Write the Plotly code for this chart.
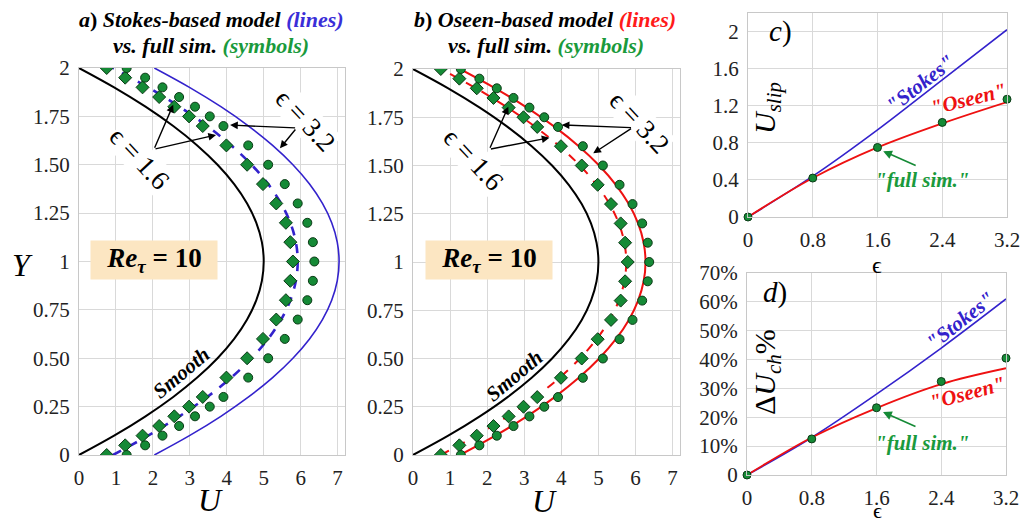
import plotly.graph_objects as go

# ---------------- data ----------------
Y_line = [0.0, 0.1, 0.2, 0.3, 0.4, 0.5, 0.6, 0.7, 0.8, 0.9, 1.0,
          1.1, 1.2, 1.3, 1.4, 1.5, 1.6, 1.7, 1.8, 1.9, 2.0]
U_smooth = [0.00, 0.95, 1.80, 2.55, 3.20, 3.75, 4.20, 4.55, 4.80, 4.95, 5.00,
            4.95, 4.80, 4.55, 4.20, 3.75, 3.20, 2.55, 1.80, 0.95, 0.00]
U_stokes_16 = [0.92, 1.87, 2.72, 3.47, 4.12, 4.67, 5.12, 5.47, 5.72, 5.87, 5.92,
               5.87, 5.72, 5.47, 5.12, 4.67, 4.12, 3.47, 2.72, 1.87, 0.92]
U_stokes_32 = [2.04, 2.99, 3.84, 4.59, 5.24, 5.79, 6.24, 6.59, 6.84, 6.99, 7.04,
               6.99, 6.84, 6.59, 6.24, 5.79, 5.24, 4.59, 3.84, 2.99, 2.04]
U_oseen_16 = [0.75, 1.70, 2.55, 3.30, 3.95, 4.50, 4.95, 5.30, 5.55, 5.70, 5.75,
              5.70, 5.55, 5.30, 4.95, 4.50, 3.95, 3.30, 2.55, 1.70, 0.75]
U_oseen_32 = [1.27, 2.22, 3.07, 3.82, 4.47, 5.02, 5.47, 5.82, 6.07, 6.22, 6.27,
              6.22, 6.07, 5.82, 5.47, 5.02, 4.47, 3.82, 3.07, 2.22, 1.27]

Y_sym = [0.0, 0.05, 0.1, 0.15, 0.2, 0.25, 0.3, 0.4, 0.5, 0.6, 0.7, 0.8, 0.9, 1.0,
         1.1, 1.2, 1.3, 1.4, 1.5, 1.6, 1.7, 1.75, 1.8, 1.85, 1.9, 1.95, 2.0]
U_sim_16 = [0.75, 1.25, 1.72, 2.17, 2.58, 2.98, 3.35, 3.99, 4.55, 4.98, 5.34, 5.60, 5.72, 5.79,
            5.72, 5.60, 5.34, 4.98, 4.55, 3.99, 3.35, 2.98, 2.58, 2.17, 1.72, 1.25, 0.75]
U_sim_32 = [1.29, 1.79, 2.26, 2.71, 3.14, 3.54, 3.91, 4.58, 5.12, 5.57, 5.92, 6.18, 6.33, 6.37,
            6.33, 6.18, 5.92, 5.57, 5.12, 4.58, 3.91, 3.54, 3.14, 2.71, 2.26, 1.79, 1.29]

eps = [0.0, 0.8, 1.6, 2.4, 3.2]
Uslip_stokes = [0.0, 0.44, 0.94, 1.48, 2.02]
Uslip_oseen = [0.0, 0.42, 0.75, 1.01, 1.24]
Uslip_sim = [0.0, 0.42, 0.75, 1.02, 1.27]
dU_stokes = [0.0, 0.13, 0.28, 0.44, 0.61]
dU_oseen = [0.0, 0.13, 0.232, 0.315, 0.37]
dU_sim = [0.0, 0.125, 0.233, 0.324, 0.405]

U_ticks = [0, 1, 2, 3, 4, 5, 6, 7]
Y_ticks = [0, 0.25, 0.5, 0.75, 1, 1.25, 1.5, 1.75, 2]
Y_ticktext = ['0', '0.25', '0.50', '0.75', '1', '1.25', '1.50', '1.75', '2']
eps_ticks = [0, 0.8, 1.6, 2.4, 3.2]
eps_ticktext = ['0', '0.8', '1.6', '2.4', '3.2']
slip_ticks = [0, 0.4, 0.8, 1.2, 1.6, 2.0]
slip_ticktext = ['0', '0.4', '0.8', '1.2', '1.6', '2']
dU_ticks = [0, 0.1, 0.2, 0.3, 0.4, 0.5, 0.6, 0.7]
dU_ticktext = ['0', '10%', '20%', '30%', '40%', '50%', '60%', '70%']

# ---------------- style ----------------
W, H = 1023, 526
FONT = 'Liberation Serif'
BLUE = '#3322cc'
RED = '#ee1111'
GREEN = '#158a36'
GREEN_T = '#1a9a3c'
MK_LINE = '#0b3a16'
GRID = '#d9d9d9'


def px(x):
    return x / W


def py(y):
    return 1 - y / H


fig = go.Figure()

# panel a
fig.add_trace(go.Scatter(x=U_smooth, y=Y_line, mode='lines', line=dict(color='black', width=2, shape='spline'),
                         xaxis='x', yaxis='y', showlegend=False))
fig.add_trace(go.Scatter(x=U_stokes_32, y=Y_line, mode='lines', line=dict(color=BLUE, width=1.6, shape='spline'),
                         xaxis='x', yaxis='y', showlegend=False))
fig.add_trace(go.Scatter(x=U_stokes_16, y=Y_line, mode='lines',
                         line=dict(color=BLUE, width=2.6, dash='dash', shape='spline'),
                         xaxis='x', yaxis='y', showlegend=False))
# panel b
fig.add_trace(go.Scatter(x=U_smooth, y=Y_line, mode='lines', line=dict(color='black', width=2, shape='spline'),
                         xaxis='x2', yaxis='y2', showlegend=False))
fig.add_trace(go.Scatter(x=U_oseen_32, y=Y_line, mode='lines', line=dict(color=RED, width=2, shape='spline'),
                         xaxis='x2', yaxis='y2', showlegend=False))
fig.add_trace(go.Scatter(x=U_oseen_16, y=Y_line, mode='lines',
                         line=dict(color=RED, width=2, dash='dash', shape='spline'),
                         xaxis='x2', yaxis='y2', showlegend=False))
for xa, ya in (('x', 'y'), ('x2', 'y2')):
    fig.add_trace(go.Scatter(x=U_sim_16, y=Y_sym, mode='markers',
                             marker=dict(symbol='diamond', size=10, color=GREEN, line=dict(color=MK_LINE, width=1)),
                             xaxis=xa, yaxis=ya, showlegend=False))
    fig.add_trace(go.Scatter(x=U_sim_32, y=Y_sym, mode='markers',
                             marker=dict(symbol='circle', size=9, color=GREEN, line=dict(color=MK_LINE, width=1)),
                             xaxis=xa, yaxis=ya, showlegend=False))

# panel c
fig.add_trace(go.Scatter(x=eps, y=Uslip_stokes, mode='lines', line=dict(color=BLUE, width=1.6, shape='spline'),
                         xaxis='x3', yaxis='y3', showlegend=False))
fig.add_trace(go.Scatter(x=eps, y=Uslip_oseen, mode='lines', line=dict(color=RED, width=1.8, shape='spline'),
                         xaxis='x3', yaxis='y3', showlegend=False))
fig.add_trace(go.Scatter(x=eps, y=Uslip_sim, mode='markers',
                         marker=dict(size=8, color=GREEN, line=dict(color=MK_LINE, width=1)),
                         xaxis='x3', yaxis='y3', showlegend=False, cliponaxis=False))
# panel d
fig.add_trace(go.Scatter(x=eps, y=dU_stokes, mode='lines', line=dict(color=BLUE, width=1.6, shape='spline'),
                         xaxis='x4', yaxis='y4', showlegend=False))
fig.add_trace(go.Scatter(x=eps, y=dU_oseen, mode='lines', line=dict(color=RED, width=1.8, shape='spline'),
                         xaxis='x4', yaxis='y4', showlegend=False))
fig.add_trace(go.Scatter(x=eps, y=dU_sim, mode='markers',
                         marker=dict(size=8, color=GREEN, line=dict(color=MK_LINE, width=1)),
                         xaxis='x4', yaxis='y4', showlegend=False, cliponaxis=False))

tickfont = dict(family=FONT, size=21, color='#222')
common = dict(showgrid=True, gridcolor=GRID, gridwidth=1, showline=True, mirror=True, linecolor='#c8c8c8',
              linewidth=1, zeroline=False, tickfont=tickfont, ticks='outside', ticklen=4,
              tickcolor='rgba(0,0,0,0)', fixedrange=True, automargin=False)

fig.update_layout(
    width=W, height=H, margin=dict(l=0, r=0, t=0, b=0, pad=0, autoexpand=False),
    paper_bgcolor='white', plot_bgcolor='white',
    xaxis=dict(domain=[px(79), px(345)], range=[0, 7.2], tickvals=U_ticks, anchor='y', **common),
    yaxis=dict(domain=[py(455), py(68)], range=[0, 2], tickvals=Y_ticks, ticktext=Y_ticktext, anchor='x', **common),
    xaxis2=dict(domain=[px(413), px(680)], range=[0, 7.2], tickvals=U_ticks, anchor='y2', **common),
    yaxis2=dict(domain=[py(455), py(69)], range=[0, 2], tickvals=Y_ticks, ticktext=Y_ticktext, anchor='x2', **common),
    xaxis3=dict(domain=[px(748), px(1007)], range=[0, 3.2], tickvals=eps_ticks, ticktext=eps_ticktext,
                anchor='y3', **common),
    yaxis3=dict(domain=[py(217), py(13)], range=[0, 2.2], tickvals=slip_ticks, ticktext=slip_ticktext,
                anchor='x3', **common),
    xaxis4=dict(domain=[px(747), px(1006)], range=[0, 3.2], tickvals=eps_ticks, ticktext=eps_ticktext,
                anchor='y4', **common),
    yaxis4=dict(domain=[py(475), py(273)], range=[0, 0.7], tickvals=dU_ticks, ticktext=dU_ticktext,
                anchor='x4', **common),
)

ann = []


def text(x, y, s, size=20, color='black', angle=0, bg=None, **kw):
    d = dict(x=px(x), y=py(y), xref='paper', yref='paper', text=s, showarrow=False,
             font=dict(family=FONT, size=size, color=color), textangle=angle,
             xanchor='center', yanchor='middle')
    if bg:
        d['bgcolor'] = bg
    d.update(kw)
    ann.append(d)


def arrow(xr, yr, x, y, ax, ay, color='black', width=1.4):
    ann.append(dict(x=x, y=y, ax=ax, ay=ay, xref=xr, yref=yr, axref=xr, ayref=yr, text='',
                    showarrow=True, arrowhead=2, arrowsize=1.1, arrowwidth=width, arrowcolor=color))


# titles
text(211, 19, '<b><i>a</i>) <i>Stokes-based model</i> <span style="color:#3a2ed8"><i>(lines)</i></span></b>', size=22)
text(211, 45, '<b><i>vs. full sim.</i> <span style="color:%s"><i>(symbols)</i></span></b>' % GREEN_T, size=22)
text(545, 19, '<b><i>b</i>) <i>Oseen-based model</i> <span style="color:#ff1a1a"><i>(lines)</i></span></b>', size=22)
text(546, 45, '<b><i>vs. full sim.</i> <span style="color:%s"><i>(symbols)</i></span></b>' % GREEN_T, size=22)

# axis titles
text(210, 500, '<i>U</i>', size=32)
text(544, 501, '<i>U</i>', size=32)
text(22, 265, '<i>Y</i>', size=32)
text(877, 265, 'ϵ', size=24)
text(877, 525, 'ϵ', size=22, yanchor='bottom')
text(767, 108, '<i>U</i><sub><i>slip</i></sub>', size=30, angle=-90)
text(767, 372, 'Δ<i>U</i><sub><i>ch</i></sub>%', size=30, angle=-90)
text(780, 32, '<i>c</i>)', size=29)
text(775, 292, '<i>d</i>)', size=29)

# Re boxes
for cx in (154, 489):
    text(cx, 260, '<b><i>Re</i><sub><i>τ</i></sub> = 10</b>', size=27, bg='#fce6c2',
         width=120, height=32, borderpad=3)

# Smooth labels
text(181, 373, '<b><i>Smooth</i></b>', size=21, angle=-40)
text(514, 376, '<b><i>Smooth</i></b>', size=21, angle=-40)

# epsilon labels
text(139, 158, 'ϵ = 1.6', size=27, angle=47, bg='white', borderpad=0)
text(305, 120, 'ϵ = 3.2', size=27, angle=47, bg='white', borderpad=0)
text(473, 159, 'ϵ = 1.6', size=27, angle=47, bg='white', borderpad=0)
text(639, 122, 'ϵ = 3.2', size=27, angle=47, bg='white', borderpad=0)

# arrows panel a
arrow('x', 'y', 2.55, 1.81, 2.03, 1.58)
arrow('x', 'y', 3.71, 1.654, 2.03, 1.58)
arrow('x', 'y', 4.09, 1.705, 5.89, 1.69)
arrow('x', 'y', 5.44, 1.585, 5.89, 1.69)
# arrows panel b
arrow('x2', 'y2', 2.57, 1.805, 2.06, 1.584)
arrow('x2', 'y2', 3.68, 1.644, 2.06, 1.584)
arrow('x2', 'y2', 4.01, 1.71, 5.92, 1.696)
arrow('x2', 'y2', 4.86, 1.563, 5.92, 1.696)

# panel c/d labels
text(920, 84, '<b><i>"Stokes"</i></b>', size=21, color=BLUE, angle=-38)
text(968, 99, '<b><i>"Oseen"</i></b>', size=21, color=RED, angle=-14)
text(922, 180, '<b><i>"full sim."</i></b>', size=21, color=GREEN_T)
text(960, 321, '<b><i>"Stokes"</i></b>', size=21, color=BLUE, angle=-38)
text(967, 393, '<b><i>"Oseen"</i></b>', size=21, color=RED, angle=-15)
text(922, 443, '<b><i>"full sim."</i></b>', size=21, color=GREEN_T)
ann.append(dict(x=1.67, y=0.71, xref='x3', yref='y3', ax=34, ay=15, text='', showarrow=True,
                arrowhead=2, arrowsize=1.1, arrowwidth=1.6, arrowcolor=GREEN))
ann.append(dict(x=1.68, y=0.218, xref='x4', yref='y4', ax=34, ay=15, text='', showarrow=True,
                arrowhead=2, arrowsize=1.1, arrowwidth=1.6, arrowcolor=GREEN))

fig.update_layout(annotations=ann)
fig.write_html('out.html', config={'displayModeBar': False},
               post_script="document.body.style.margin='0';document.body.style.padding='0';"
                           "document.body.style.overflow='hidden';")
